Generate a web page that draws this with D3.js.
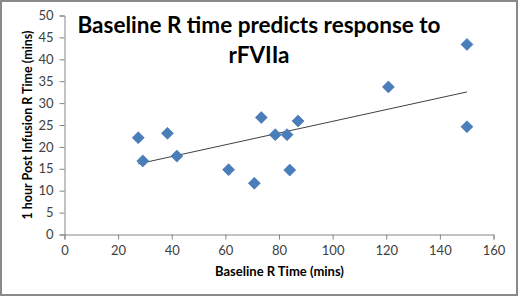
<!DOCTYPE html>
<html>
<head>
<meta charset="utf-8">
<script src="https://cdn.jsdelivr.net/npm/d3@7"></script>
<style>
  body { margin: 0; background: #fff; }
  svg { display: block; }
</style>
</head>
<body>
<script>
// baseline R time vs 1 hour post infusion R time
const baselineR = [27.5, 38.4, 29.2, 41.9, 61.2, 70.8, 73.4, 78.6, 83, 87.1, 84, 120.8, 150.1, 150.1];
const postInfusionR = [22.1, 23.1, 16.8, 17.9, 14.8, 11.7, 26.7, 22.8, 22.8, 25.9, 14.7, 33.7, 43.4, 24.6];
const xTicks = [0, 20, 40, 60, 80, 100, 120, 140, 160];
const yTicks = [0, 5, 10, 15, 20, 25, 30, 35, 40, 45, 50];
const titleLines = ["Baseline R time predicts response to", "rFVIIa"];

const width = 520, height = 298;
const svg = d3.select('body').append('svg').attr('width', width).attr('height', height);

svg.append('rect')
  .attr('x', 1).attr('y', 1).attr('width', 516).attr('height', 294)
  .attr('fill', '#fff').attr('stroke', '#8a8a8a').attr('stroke-width', 2);

const x = d3.scaleLinear().domain([0, 160]).range([64.5, 493.5]);
const y = d3.scaleLinear().domain([0, 50]).range([234.5, 15.5]);

const axisColor = '#868686';
const labelFont = 'Lato, "Open Sans", sans-serif';

const xAxis = svg.append('g')
  .attr('transform', 'translate(0,' + y(0) + ')')
  .call(d3.axisBottom(x).tickValues(xTicks).tickSize(5).tickPadding(6));

const yAxis = svg.append('g')
  .attr('transform', 'translate(' + x(0) + ',0)')
  .call(d3.axisLeft(y).tickValues(yTicks).tickSize(5).tickPadding(6));

[xAxis, yAxis].forEach(function(g) {
  g.select('.domain').attr('stroke', axisColor);
  g.selectAll('.tick line').attr('stroke', axisColor);
  g.selectAll('.tick text')
    .attr('fill', '#404040')
    .style('font-family', labelFont)
    .style('font-size', '13px');
});

// points
const points = baselineR.map(function(d, i) { return [d, postInfusionR[i]]; });

// linear trendline (least squares) across the data extent
const mx = d3.mean(baselineR), my = d3.mean(postInfusionR);
const slope = d3.sum(points, function(p) { return (p[0] - mx) * (p[1] - my); }) /
  d3.sum(points, function(p) { return (p[0] - mx) * (p[0] - mx); });
const intercept = my - slope * mx;
const ext = d3.extent(baselineR);

svg.append('line')
  .attr('x1', x(ext[0])).attr('y1', y(slope * ext[0] + intercept))
  .attr('x2', x(ext[1])).attr('y2', y(slope * ext[1] + intercept))
  .attr('stroke', '#404040').attr('stroke-width', 1);

svg.selectAll('path.pt')
  .data(points)
  .enter()
  .append('path')
  .attr('class', 'pt')
  .attr('d', 'M0,-6L6,0L0,6L-6,0Z')
  .attr('transform', function(d) { return 'translate(' + x(d[0]) + ',' + y(d[1]) + ')'; })
  .attr('fill', '#4a7ebb')
  .attr('stroke', '#3d6ea8')
  .attr('stroke-width', 0.6);

// title
svg.append('g').selectAll('text')
  .data(titleLines)
  .enter()
  .append('text')
  .attr('x', 259)
  .attr('y', function(d, i) { return 33 + i * 30; })
  .attr('text-anchor', 'middle')
  .style('font-family', labelFont)
  .style('font-weight', 'bold')
  .style('font-size', '22.5px')
  .attr('fill', '#000')
  .text(function(d) { return d; });

// axis titles
svg.append('text')
  .attr('x', 279.5).attr('y', 276)
  .attr('text-anchor', 'middle')
  .style('font-family', labelFont)
  .style('font-weight', 'bold')
  .style('font-size', '13px')
  .attr('fill', '#000')
  .text('Baseline R Time (mins)');

svg.append('text')
  .attr('transform', 'translate(32,125) rotate(-90)')
  .attr('text-anchor', 'middle')
  .style('font-family', labelFont)
  .style('font-weight', 'bold')
  .style('font-size', '12.5px')
  .attr('fill', '#000')
  .text('1 hour Post Infusion R Time (mins)');
</script>
</body>
</html>
